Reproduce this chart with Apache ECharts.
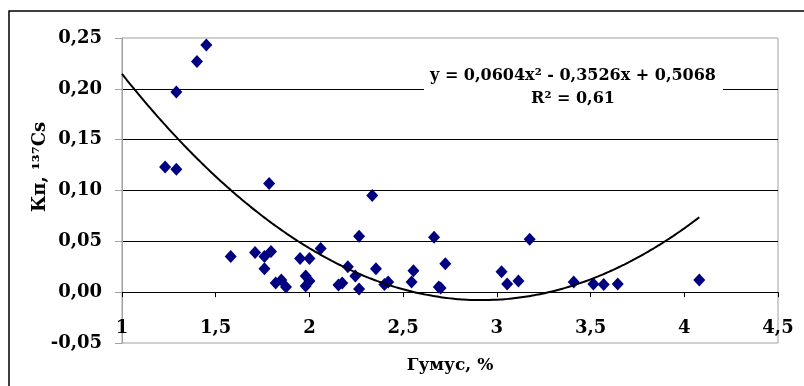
<!DOCTYPE html>
<html>
<head>
<meta charset="utf-8">
<script src="https://cdn.jsdelivr.net/npm/echarts@6/dist/echarts.min.js"></script>
<style>
  html, body { margin: 0; padding: 0; background: #fff; }
  #chart { width: 804px; height: 386px; }
</style>
</head>
<body>
<div id="chart"></div>
<script>
  // гумус, % (x) и Кп 137Cs (y)
  var humus = [1.23, 1.29, 1.29, 1.40, 1.45, 1.58, 1.71, 1.76, 1.795, 1.76,
    1.785, 1.82, 1.85, 1.875, 1.95, 2.00, 1.98, 2.00, 1.98, 2.06,
    2.155, 2.175, 2.205, 2.245, 2.265, 2.265, 2.335, 2.355, 2.40, 2.42,
    2.545, 2.555, 2.665, 2.69, 2.70, 2.725, 3.025, 3.055, 3.115, 3.175,
    3.41, 3.515, 3.57, 3.645, 4.08]
  var kp = [0.123, 0.121, 0.197, 0.227, 0.243, 0.035, 0.039, 0.035, 0.040, 0.023,
    0.107, 0.009, 0.012, 0.005, 0.033, 0.033, 0.016, 0.011, 0.006, 0.043,
    0.007, 0.009, 0.025, 0.016, 0.055, 0.003, 0.095, 0.023, 0.0075, 0.010,
    0.010, 0.021, 0.054, 0.005, 0.004, 0.028, 0.020, 0.008, 0.011, 0.052,
    0.010, 0.008, 0.0075, 0.008, 0.012]

  // полиномиальный тренд, как подписан на графике
  var trendCoef = [0.0604, -0.3526, 0.5068]
  var trendRange = [1, 4.08]
  var eqText = ['y = 0,0604x² - 0,3526x + 0,5068', 'R² = 0,61']

  var xTicks = { min: 1, max: 4.5, interval: 0.5 }
  var yTicks = { min: -0.05, max: 0.25, interval: 0.05 }

  var font = 'DejaVu Serif'

  var points = humus.map(function (x, i) { return [x, kp[i]] })
  var trend = []
  for (var k = 0; k <= 154; k++) {
    var x = trendRange[0] + (trendRange[1] - trendRange[0]) * k / 154
    trend.push([x, trendCoef[0] * x * x + trendCoef[1] * x + trendCoef[2]])
  }

  var myChart = echarts.init(document.getElementById('chart'))
  myChart.setOption({
    backgroundColor: '#fff',
    animation: false,
    grid: {
      left: 122, top: 38, right: 26, bottom: 43,
      outerBoundsMode: 'none',
      containLabel: false,
      show: true, borderColor: '#a0a0a0', borderWidth: 1,
      backgroundColor: 'transparent'
    },
    xAxis: {
      type: 'value',
      min: xTicks.min, max: xTicks.max, interval: xTicks.interval,
      name: 'Гумус, %',
      nameLocation: 'middle',
      nameGap: 14,
      nameTextStyle: { fontFamily: font, fontWeight: 'bold', fontSize: 17, color: '#000' },
      // линия оси на нуле, подписи в v6 остаются у нижнего края
      axisLine: { onZero: true, lineStyle: { color: '#000', width: 1 } },
      axisTick: { show: true, length: 5, lineStyle: { color: '#000' } },
      axisLabel: {
        margin: -24,
        fontFamily: font, fontWeight: 'bold', fontSize: 18, color: '#000',
        formatter: function (v) { return String(v).replace('.', ',') }
      },
      splitLine: { show: false }
    },
    yAxis: {
      type: 'value',
      min: yTicks.min, max: yTicks.max, interval: yTicks.interval,
      axisLine: { show: true, onZero: false, lineStyle: { color: '#a0a0a0' } },
      axisTick: { show: true, length: 7, lineStyle: { color: '#a0a0a0' } },
      axisLabel: {
        margin: 20,
        fontFamily: font, fontWeight: 'bold', fontSize: 18, color: '#000',
        formatter: function (v) {
          return (Math.round(v * 100) / 100).toFixed(2).replace('.', ',')
        }
      },
      splitLine: { show: true, showMinLine: false, showMaxLine: false, lineStyle: { color: '#000', width: 1 } }
    },
    series: [
      {
        type: 'scatter',
        data: points,
        symbol: 'diamond',
        symbolSize: [12, 13],
        itemStyle: { color: '#000080', opacity: 1 },
        z: 3
      },
      {
        type: 'line',
        data: trend,
        showSymbol: false,
        smooth: true,
        lineStyle: { color: '#000', width: 2 },
        z: 4
      }
    ],
    graphic: [
      {
        type: 'rect', z: 10,
        shape: { x: 9, y: 11, width: 1000, height: 1000 },
        style: { fill: 'none', stroke: '#000', lineWidth: 1.5 }
      },
      {
        type: 'rect', z: 10,
        shape: { x: 424, y: 63, width: 299, height: 47 },
        style: { fill: '#fff' }
      },
      {
        type: 'text', z: 11,
        x: 573, y: 87,
        style: {
          text: eqText.join('\n'),
          align: 'center', verticalAlign: 'middle',
          lineHeight: 23,
          font: 'bold 16px "' + font + '"',
          fill: '#000'
        }
      },
      {
        type: 'text', z: 11,
        x: 40, y: 167, rotation: Math.PI / 2,
        style: {
          text: 'Кп, ¹³⁷Cs',
          align: 'center', verticalAlign: 'middle',
          font: 'bold 18px "' + font + '"',
          fill: '#000'
        }
      }
    ]
  })
</script>
</body>
</html>
